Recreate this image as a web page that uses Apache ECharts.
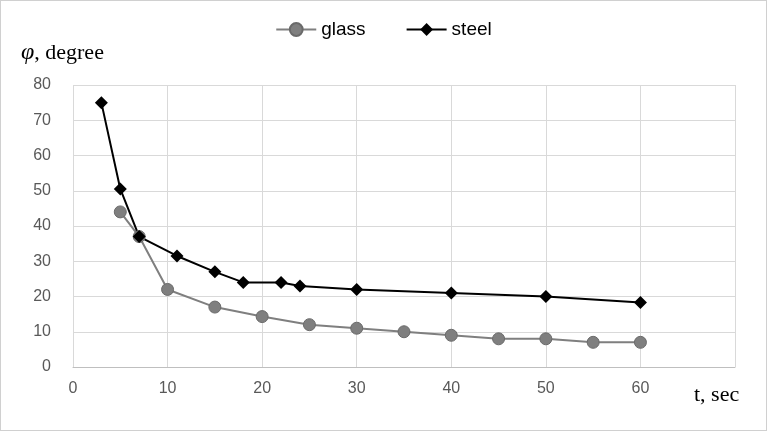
<!DOCTYPE html>
<html><head><meta charset="utf-8">
<script src="https://cdn.jsdelivr.net/npm/echarts@6/dist/echarts.min.js"></script>
<style>html,body{margin:0;background:#fff}#c{width:767px;height:431px;box-sizing:border-box;border:1px solid #d0d0d0}</style>
</head><body><div id="c"></div>
<script>
const glassT = [5, 7, 10, 15, 20, 25, 30, 35, 40, 45, 50, 55, 60];
const glassPhi = [44, 37, 22, 17, 14.3, 12, 11, 10, 9, 8, 8, 7, 7];
const steelT = [3, 5, 7, 11, 15, 18, 22, 24, 30, 40, 50, 60];
const steelPhi = [75, 50.5, 37, 31.5, 27, 24, 24, 23, 22, 21, 20, 18.3];
const xTicks = [0, 10, 20, 30, 40, 50, 60];

const chart = echarts.init(document.getElementById('c'));
const axisText = { color: '#595959', fontSize: 16, fontFamily: 'Liberation Sans' };
chart.setOption({
    animation: false,
    grid: { left: 72, right: 31, top: 84, bottom: 63 },
    legend: {
        top: 14, left: 'center', itemGap: 40, itemWidth: 40, itemHeight: 16,
        textStyle: { fontSize: 19, color: '#000', fontFamily: 'Liberation Sans' },
        data: ['glass', 'steel']
    },
    xAxis: {
        type: 'value', min: 0, max: 70, interval: 10,
        axisLine: { lineStyle: { color: '#bfbfbf' } },
        axisTick: { show: false },
        splitLine: { lineStyle: { color: '#d9d9d9' } },
        axisLabel: Object.assign({ margin: 14, formatter: v => xTicks.includes(v) ? v : '' }, axisText)
    },
    yAxis: {
        type: 'value', min: 0, max: 80, interval: 10,
        axisLine: { show: false }, axisTick: { show: false },
        splitLine: { lineStyle: { color: '#d9d9d9' } },
        axisLabel: Object.assign({ margin: 22 }, axisText)
    },
    graphic: [
        { type: 'text', left: 20, top: 40, style: {
            text: '{i|φ}, degree', fontSize: 22, fontFamily: 'Liberation Serif', fill: '#000',
            rich: { i: { fontStyle: 'italic', fontSize: 24, fontFamily: 'Liberation Serif' } } } },
        { type: 'text', left: 693, top: 383, style: { text: 't, sec', fontSize: 22, fontFamily: 'Liberation Serif', fill: '#000' } }
    ],
    series: [
        {
            name: 'glass', type: 'line',
            data: glassT.map((t, i) => [t, glassPhi[i]]),
            symbol: 'circle', symbolSize: 12,
            lineStyle: { color: '#7f7f7f', width: 2 },
            itemStyle: { color: '#7f7f7f', borderColor: '#6a6a6a', borderWidth: 1 }
        },
        {
            name: 'steel', type: 'line',
            data: steelT.map((t, i) => [t, steelPhi[i]]),
            symbol: 'diamond', symbolSize: 13,
            lineStyle: { color: '#000', width: 2 },
            itemStyle: { color: '#000' }
        }
    ]
});
</script></body></html>
